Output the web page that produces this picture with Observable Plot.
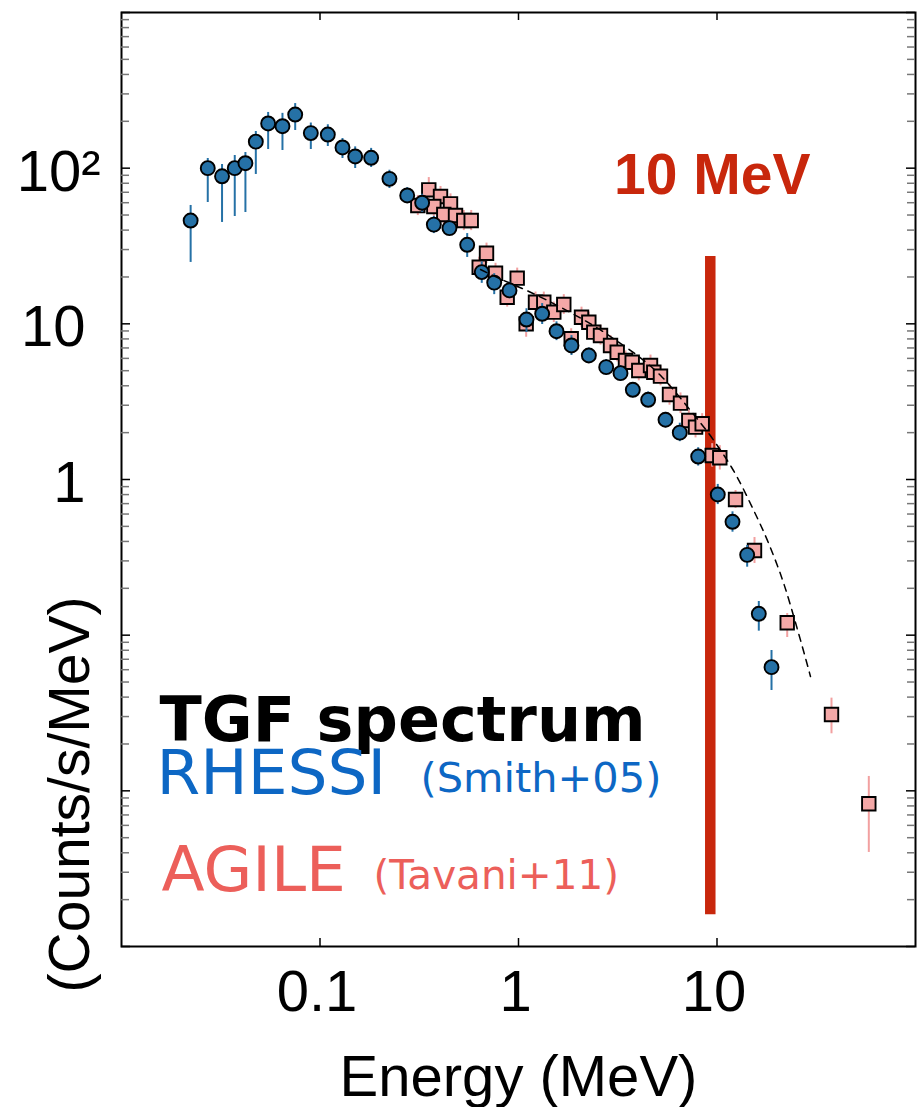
<!DOCTYPE html>
<html>
<head>
<meta charset="utf-8">
<script src="https://cdn.jsdelivr.net/npm/d3@7"></script>
<script src="https://cdn.jsdelivr.net/npm/@observablehq/plot@0.6"></script>
<style>
  html, body { margin: 0; padding: 0; background: #fff; }
  #chart { width: 918px; height: 1107px; }
</style>
</head>
<body>
<div id="chart"></div>
<script>
// ---- RHESSI (Smith+05): energy (MeV), counts/s/MeV, error bar low/high
const rE  = [0.0223, 0.0272, 0.0321, 0.0372, 0.0421, 0.0475, 0.0548, 0.0647, 0.0750, 0.0899,
             0.1095, 0.1298, 0.1504, 0.181, 0.2238, 0.275, 0.327, 0.3745, 0.449, 0.5515,
             0.653, 0.7545, 0.901, 1.097, 1.316, 1.554, 1.849, 2.262, 2.766, 3.265,
             3.766, 4.50, 5.503, 6.494, 8.04, 10.09, 11.97, 14.19, 16.24, 18.82];
const rC  = [46.1, 100, 88.7, 100, 107.6, 148, 193.7, 186, 221, 168,
             164.5, 135.8, 118.9, 116.6, 85.4, 66.8, 59.9, 43.4, 41.2, 32.2,
             21.5, 18.4, 16.4, 10.66, 11.6, 8.97, 7.26, 6.26, 5.27, 4.82,
             3.77, 3.25, 2.42, 2.0, 1.405, 0.801, 0.535, 0.328, 0.1372, 0.0623];
const rLo = [24.8, 60.2, 44.8, 48.9, 51.9, 91.1, 131.8, 129.9, 174.6, 131.8,
             137.8, 115.4, 99.5, 101, 74.0, 59.3, 52, 38.0, 36.9, 26.7,
             18.2, 15.4, 14.5, 8.8, 9.9, 7.8, 6.26, 5.6, 4.7, 4.3,
             3.35, 2.9, 2.15, 1.75, 1.22, 0.69, 0.4587, 0.2733, 0.1061, 0.0441];
const rHi = [57.6, 115.4, 105.6, 120.6, 126.1, 172, 228, 225, 260, 195,
             190, 155, 137, 134, 97, 75, 68, 49, 46, 38,
             25, 21, 18.5, 12.5, 13.5, 10.3, 8.4, 7.0, 5.9, 5.4,
             4.2, 3.65, 2.7, 2.3, 1.6, 0.93, 0.62, 0.3768, 0.1646, 0.0797];

// ---- AGILE (Tavani+11)
const aE  = [0.3532, 0.4047, 0.3110, 0.3745, 0.4544, 0.4205, 0.4816, 0.5302, 0.5778, 0.690,
             0.6339, 0.766, 0.985, 0.877, 1.093, 1.218, 1.341, 1.506, 1.691, 1.843,
             2.077, 2.261, 2.395, 2.589, 2.908, 3.142, 3.459, 3.739, 4.036, 4.624,
             4.804, 5.192, 5.764, 6.547, 7.211, 7.795, 8.42, 9.458, 10.33, 12.4,
             15.45, 22.58, 37.74, 58.18];
const aC  = [72.6, 65.8, 57.6, 56.7, 59.0, 50.4, 49.7, 46.1, 46.1, 28.4,
             23.1, 21.15, 19.65, 14.83, 10.0, 13.77, 13.77, 11.88, 13.31, 8.015,
             11.03, 10.24, 8.84, 8.42, 7.26, 6.57, 5.81, 5.67, 5.015, 5.40,
             4.89, 4.61, 3.517, 3.092, 2.393, 2.168, 2.28, 1.426, 1.379, 0.744,
             0.35, 0.1201, 0.03094, 0.008254];
const aLo = [62, 56.6, 49.6, 48.8, 50.8, 43.4, 42.8, 39.7, 39.7, 24.4,
             19.9, 18.2, 16.9, 12.8, 8.2, 11.9, 11.9, 10.2, 11.5, 6.9,
             9.5, 8.8, 7.6, 7.3, 6.3, 5.7, 5.0, 4.9, 4.3, 4.65,
             4.2, 4.0, 3.0, 2.65, 2.05, 1.85, 1.95, 1.2, 1.15, 0.651,
             0.2887, 0.0966, 0.02325, 0.00402];
const aHi = [87, 76.3, 66.8, 65.8, 68.4, 58.5, 57.7, 53.5, 53.5, 33,
             26.8, 24.5, 22.8, 17.2, 11.8, 16.0, 16.0, 13.8, 15.4, 9.3,
             12.8, 11.9, 10.3, 9.8, 8.4, 7.6, 6.7, 6.6, 5.8, 6.3,
             5.7, 5.35, 4.1, 3.6, 2.8, 2.5, 2.65, 1.7, 1.65, 0.85,
             0.424, 0.1378, 0.0394, 0.01237];

// ---- model curve (dashed)
const modelE = [0.6436, 0.8114, 1.044, 1.628, 3.021, 5.295, 7.353, 9.636, 12.64, 15.04, 18.24, 21.71, 25.35, 29.58];
const modelC = [22.34, 19.41, 16.87, 12.79, 8.015, 4.542, 2.776, 1.781, 1.035, 0.664, 0.3864, 0.2138, 0.1104, 0.0543];

// ---- 10 MeV marker line
const cutE = [9.25];
const cutY = [27.1, 0.0016];   // top, bottom of the red line
const cutLabel = ["10 MeV"];

// ---- axes
const xDomain = [0.01, 100];
const yDomain = [0.001, 1000];
const xTicks = [0.1, 1, 10];
const xTickLabels = ["0.1", "1", "10"];
const yTicks = [1, 10];
const yTickLabels = ["1", "10"];
const yTicksSup = [100];
const yTickLabelsSup = ["10²"];
const yMajor = [0.001, 0.01, 0.1, 1, 10, 100, 1000];
const xLabel = ["Energy (MeV)"];
const yLabel = ["(Counts/s/MeV)"];

// ---- legend text
const legendTitle = ["TGF spectrum"];
const legendNames = ["RHESSI", "AGILE"];
const legendRefs = ["(Smith+05)", "(Tavani+11)"];

const rhessi = rE.map((e, i) => ({e, c: rC[i], lo: rLo[i], hi: rHi[i]}));
const agile = aE.map((e, i) => ({e, c: aC[i], lo: aLo[i], hi: aHi[i]}));
const model = modelE.map((e, i) => ({e, c: modelC[i]}));
const yMinor = d3.scaleLog().domain(yDomain).ticks().filter(v => !yMajor.some(m => Math.abs(v / m - 1) < 1e-6));

const W = 918, H = 1107;
const mL = 121, mR = 3, mT = 12, mB = 161;
const pw = W - mL - mR, ph = H - mT - mB;

const BLUE = "#2571a6", PINK = "#f4a8a7", RED = "#c8270c";
const AX = "Liberation Sans, Arial, Helvetica, sans-serif";
const LG = "DejaVu Sans, sans-serif";

const plot = Plot.plot({
  width: W, height: H,
  marginLeft: mL, marginRight: mR, marginTop: mT, marginBottom: mB,
  x: {type: "log", domain: xDomain, axis: null},
  y: {type: "log", domain: yDomain, axis: null},
  style: {fontFamily: AX, background: "#fff", overflow: "visible"},
  marks: [
    Plot.ruleX(cutE, {x: d => d, y1: cutY[0], y2: cutY[1], stroke: RED, strokeWidth: 10.5}),
    Plot.ruleX(agile, {x: "e", y1: "lo", y2: "hi", stroke: "#f2a0a0", strokeWidth: 2}),
    Plot.dot(agile, {x: "e", y: "c", symbol: "square", r: 7.6, fill: PINK, stroke: "black", strokeWidth: 1.9}),
    Plot.ruleX(rhessi, {x: "e", y1: "lo", y2: "hi", stroke: BLUE, strokeWidth: 2}),
    Plot.dot(rhessi, {x: "e", y: "c", r: 7, fill: BLUE, stroke: "black", strokeWidth: 1.9}),
    Plot.line(model, {x: "e", y: "c", curve: "monotone-x", stroke: "black", strokeWidth: 1.5, strokeDasharray: "7,6"}),
    Plot.frame({stroke: "black", strokeWidth: 2}),
    // ticks (inward)
    Plot.tickX(xTicks, {x: d => d, insetTop: ph - 8, stroke: "black", strokeWidth: 1.5}),
    Plot.tickX(xTicks, {x: d => d, insetBottom: ph - 8, stroke: "black", strokeWidth: 1.5}),
    Plot.tickY(yMajor, {y: d => d, insetRight: pw - 9, stroke: "black", strokeWidth: 1.5}),
    Plot.tickY(yMajor, {y: d => d, insetLeft: pw - 9, stroke: "black", strokeWidth: 1.5}),
    Plot.tickY(yMinor, {y: d => d, insetRight: pw - 8, stroke: "#777", strokeWidth: 1.5}),
    Plot.tickY(yMinor, {y: d => d, insetLeft: pw - 8, stroke: "#777", strokeWidth: 1.5}),
    // axis labels
    Plot.axisX({ticks: xTicks, tickFormat: d => xTickLabels[xTicks.indexOf(d)], tickSize: 0, tickPadding: 23,
                fontSize: 58, fontFamily: AX, dx: -3, label: null}),
    Plot.axisY({ticks: yTicks, tickFormat: d => yTickLabels[yTicks.indexOf(d)], tickSize: 0, tickPadding: 36,
                fontSize: 58, fontFamily: AX, dy: 4, label: null}),
    Plot.axisY({ticks: yTicksSup, tickFormat: d => yTickLabelsSup[yTicksSup.indexOf(d)], tickSize: 0, tickPadding: 21,
                fontSize: 58, fontFamily: AX, dy: 4, label: null}),
    Plot.text(xLabel, {text: d => d, frameAnchor: "bottom", dy: 149, lineAnchor: "bottom",
                       fontSize: 58, fontFamily: AX, fill: "black"}),
    Plot.text(yLabel, {text: d => d, frameAnchor: "bottom-left", dx: -33, dy: -152, rotate: -90,
                       textAnchor: "middle", lineAnchor: "bottom", fontSize: 57, fontFamily: AX, fill: "black"}),
    // 10 MeV label
    Plot.text(cutLabel, {text: d => d, x: cutE[0], frameAnchor: "top", dx: 2, dy: 181, lineAnchor: "bottom",
                         fontSize: 57, fontWeight: "bold", fontFamily: AX, fill: RED}),
    // legend
    Plot.text(legendTitle, {text: d => d, frameAnchor: "top-left", dx: 38, dy: 728, textAnchor: "start",
                            lineAnchor: "bottom", fontSize: 62, fontWeight: "bold", fontFamily: LG, fill: "black"}),
    Plot.text([legendNames[0]], {text: d => d, frameAnchor: "top-left", dx: 35, dy: 781, textAnchor: "start",
                            lineAnchor: "bottom", fontSize: 63, fontFamily: LG, fill: "#0d67c4"}),
    Plot.text([legendRefs[0]], {text: d => d, frameAnchor: "top-left", dx: 299, dy: 779, textAnchor: "start",
                            lineAnchor: "bottom", fontSize: 41.5, fontFamily: LG, fill: "#0d67c4"}),
    Plot.text([legendNames[1]], {text: d => d, frameAnchor: "top-left", dx: 40, dy: 878, textAnchor: "start",
                            lineAnchor: "bottom", fontSize: 63, fontFamily: LG, fill: "#ec5f5a"}),
    Plot.text([legendRefs[1]], {text: d => d, frameAnchor: "top-left", dx: 252, dy: 876, textAnchor: "start",
                            lineAnchor: "bottom", fontSize: 40.5, fontFamily: LG, fill: "#ec5f5a"})
  ]
});
document.getElementById("chart").appendChild(plot);
</script>
</body>
</html>
